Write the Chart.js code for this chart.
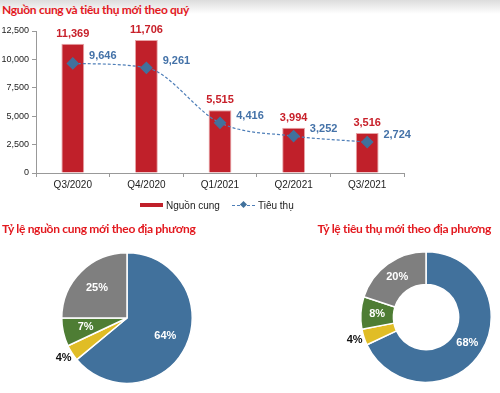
<!DOCTYPE html>
<html>
<head>
<meta charset="utf-8">
<script src="https://cdn.jsdelivr.net/npm/chart.js@4.4.1/dist/chart.umd.min.js"></script>
<style>
  body { margin: 0; width: 500px; height: 393px; position: relative; overflow: hidden; background: #fff; font-family: "Liberation Sans", Arial, sans-serif; }
  #topband { position: absolute; left: 0; top: 0; width: 500px; height: 14px; background: linear-gradient(#dcdcdc, #fff); }
  .title { position: absolute; color: #E3191F; font: bold 12px Lato, sans-serif; letter-spacing: -0.3px; white-space: nowrap; }
  canvas { position: absolute; }
  #legend { position: absolute; top: 199px; left: 140px; font-size: 10px; color: #222; white-space: nowrap; }
  #legend span { display: inline-block; vertical-align: middle; }
  .box { width: 23px; height: 4px; background: #C0202A; margin-right: 3px; }
  .dash { width: 23px; border-top: 1px dashed #4F7FB8; position: relative; margin: 0 3px 0 12px; }
  .dash i { position: absolute; left: 9px; top: -4px; width: 5px; height: 5px; background: #41719C; transform: rotate(45deg); }
</style>
</head>
<body>
<div id="topband"></div>
<div class="title" style="left:2px; top:2px;">Nguồn cung và tiêu thụ mới theo quý</div>
<canvas id="bars" width="500" height="200" style="left:0; top:0;"></canvas>
<div id="legend"><span class="box"></span><span>Nguồn cung</span><span class="dash"><i></i></span><span>Tiêu thụ</span></div>

<div class="title" style="left:2px; top:221px;">Tỷ lệ nguồn cung mới theo địa phương</div>
<canvas id="pie" width="200" height="136" style="left:0; top:250px;"></canvas>

<div class="title" style="right:9px; top:221px;">Tỷ lệ tiêu thụ mới theo địa phương</div>
<canvas id="donut" width="174" height="136" style="left:326px; top:249px;"></canvas>

<script>
// Data
const quarters = ["Q3/2020", "Q4/2020", "Q1/2021", "Q2/2021", "Q3/2021"];
const supply = [11369, 11706, 5515, 3994, 3516];
const sales = [9646, 9261, 4416, 3252, 2724];
const yTicks = [0, 2500, 5000, 7500, 10000, 12500];

const regions = ["Khu vực 1", "Khu vực 2", "Khu vực 3", "Khu vực 4"];
const supplyShare = [64, 4, 7, 25];
const salesShare = [68, 4, 8, 20];

// Colors
let red = "#C0202A";
let blue = "#41719C";
let lineBlue = "#4F7FB8";
let sliceColors = ["#41719C", "#E0BD26", "#4E7D34", "#7F7F7F"];

const fmt = v => v.toLocaleString("en-US");

// Value labels for bar + line
const barLabels = {
  id: "barLabels",
  afterDatasetsDraw(chart) {
    const ctx = chart.ctx;
    ctx.save();
    ctx.font = "bold 11px 'Liberation Sans', Arial";
    ctx.textAlign = "center";
    ctx.textBaseline = "middle";
    chart.getDatasetMeta(0).data.forEach((el, i) => {
      ctx.fillStyle = "#C8202A";
      ctx.fillText(fmt(supply[i]), el.x, el.y - 10);
    });
    chart.getDatasetMeta(1).data.forEach((el, i) => {
      ctx.fillStyle = "#4472A8";
      ctx.fillText(fmt(sales[i]), el.x + 30, el.y - 7);
    });
    ctx.restore();
  }
};

// Percent labels for pie / doughnut
const sliceLabels = {
  id: "sliceLabels",
  afterDatasetsDraw(chart) {
    const ctx = chart.ctx;
    const data = chart.data.datasets[0].data;
    ctx.save();
    ctx.font = "bold 11px 'Liberation Sans', Arial";
    ctx.textAlign = "center";
    ctx.textBaseline = "middle";
    chart.getDatasetMeta(0).data.forEach((arc, i) => {
      const mid = (arc.startAngle + arc.endAngle) / 2;
      const small = data[i] < 5;
      let r;
      if (small) r = arc.outerRadius * 1.15;
      else if (arc.innerRadius > 0) r = (arc.innerRadius + arc.outerRadius) / 2;
      else r = arc.outerRadius * 0.65;
      ctx.fillStyle = small ? "#111" : "#fff";
      ctx.fillText(data[i] + "%", arc.x + Math.cos(mid) * r, arc.y + Math.sin(mid) * r);
    });
    ctx.restore();
  }
};

// Supply & sales by quarter
new Chart(document.getElementById("bars").getContext("2d"), {
  data: {
    labels: quarters,
    datasets: [{
      type: "bar",
      label: "Nguồn cung",
      data: supply,
      backgroundColor: red,
      borderColor: "#E7A3A6",
      borderWidth: 1,
      barPercentage: 0.31,
      categoryPercentage: 1,
      order: 2
    }, {
      type: "line",
      label: "Tiêu thụ",
      data: sales,
      borderColor: lineBlue,
      borderWidth: 1.2,
      borderDash: [3, 2],
      cubicInterpolationMode: "monotone",
      pointStyle: "rectRot",
      pointRadius: 5.5,
      pointBackgroundColor: blue,
      pointBorderColor: blue,
      order: 1
    }]
  },
  options: {
    responsive: false,
    animation: false,
    layout: { padding: { top: 31, right: 96, left: 0, bottom: 0 } },
    plugins: { legend: { display: false }, tooltip: { enabled: false } },
    scales: {
      x: {
        grid: { drawOnChartArea: false, tickLength: 4, color: "#999" },
        border: { color: "#999" },
        ticks: { font: { size: 10, family: "'Liberation Sans', Arial" }, color: "#222", padding: 2 },
        afterFit: s => { s.height = 27; }
      },
      y: {
        min: 0,
        max: 12500,
        afterBuildTicks: s => { s.ticks = yTicks.map(v => ({ value: v })); },
        grid: { drawOnChartArea: false, tickLength: 4, color: "#999" },
        border: { color: "#999" },
        ticks: { font: { size: 9, family: "'Liberation Sans', Arial" }, color: "#222", padding: 3, callback: v => fmt(v) },
        afterFit: s => { s.width = 36; }
      }
    }
  },
  plugins: [barLabels]
});

// Supply share by region
new Chart(document.getElementById("pie").getContext("2d"), {
  type: "pie",
  data: {
    labels: regions,
    datasets: [{ data: supplyShare, backgroundColor: sliceColors, borderColor: "#fff", borderWidth: 1.5 }]
  },
  options: {
    responsive: false,
    animation: false,
    layout: { padding: { left: 57, right: 3, top: 2, bottom: 2 } },
    plugins: { legend: { display: false }, tooltip: { enabled: false } }
  },
  plugins: [sliceLabels]
});

// Sales share by region
new Chart(document.getElementById("donut").getContext("2d"), {
  type: "doughnut",
  data: {
    labels: regions,
    datasets: [{ data: salesShare, backgroundColor: sliceColors, borderColor: "#fff", borderWidth: 1.5 }]
  },
  options: {
    responsive: false,
    animation: false,
    cutout: "50%",
    layout: { padding: { left: 30, right: 4, top: 2, bottom: 2 } },
    plugins: { legend: { display: false }, tooltip: { enabled: false } }
  },
  plugins: [sliceLabels]
});
</script>
</body>
</html>
